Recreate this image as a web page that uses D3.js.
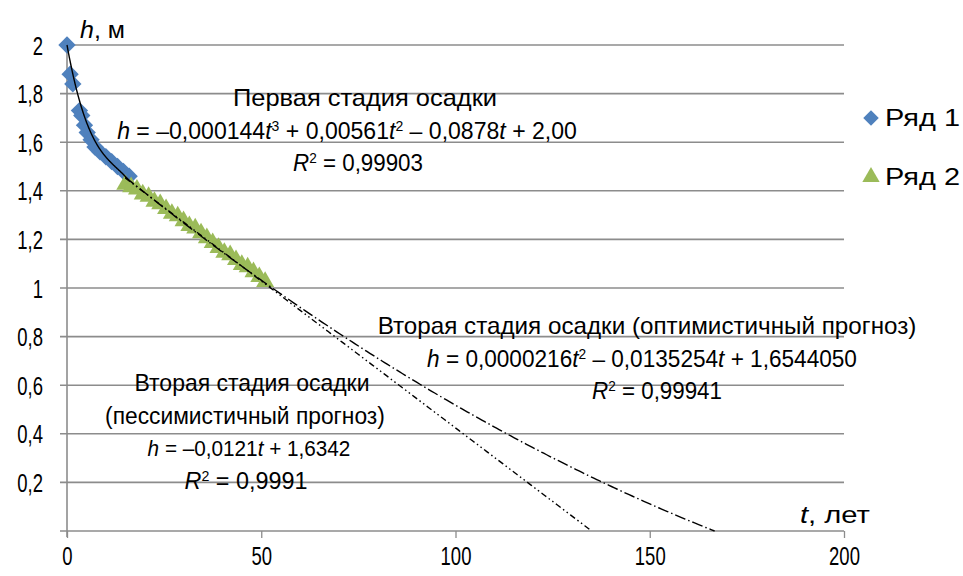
<!DOCTYPE html>
<html><head><meta charset="utf-8">
<script src="https://cdn.jsdelivr.net/npm/d3@7"></script>
<style>
html,body{margin:0;padding:0;background:#fff;}
text{font-family:"Liberation Sans",Arial,sans-serif;fill:#000;}
</style></head><body>
<svg id="c" width="963" height="576"></svg>
<script>
// ---- data ----
const series1T = [0, 0.8, 1.5, 3.2, 3.8, 4.5, 5.2, 6.2, 7.2, 8.5, 10, 11.5, 13, 14.5, 16];
const series1H = [2.00, 1.88, 1.84, 1.73, 1.71, 1.67, 1.64, 1.61, 1.58, 1.56, 1.54, 1.52, 1.50, 1.48, 1.46];
const series2T = [15, 16.5, 18, 19.5, 21, 22.5, 24, 25.5, 27, 28.5, 30, 31.5, 33, 34.5, 36, 37.5, 39, 40.5, 42, 43.5, 45, 46.5, 48, 49.5, 51];
const series2H = [1.43, 1.42, 1.41, 1.39, 1.38, 1.36, 1.35, 1.33, 1.31, 1.30, 1.28, 1.26, 1.25, 1.23, 1.21, 1.19, 1.17, 1.15, 1.14, 1.12, 1.10, 1.09, 1.07, 1.05, 1.03];
const seriesNames = ["Ряд 1", "Ряд 2"];
// trend-line coefficients (as shown in the chart)
const cubicCoef = [2.00, -0.0878, 0.00561, -0.000144];      // stage 1
const optimCoef = [1.6544050, -0.0135254, 0.0000216];       // stage 2 optimistic
const pessCoef  = [1.6342, -0.0121];                        // stage 2 pessimistic
const xTicks = [0, 50, 100, 150, 200];
const yTicks = [0.2, 0.4, 0.6, 0.8, 1, 1.2, 1.4, 1.6, 1.8, 2];

const svg = d3.select("#c");
const x = d3.scaleLinear().domain([0, 200]).range([67, 844]);
const y = d3.scaleLinear().domain([0, 2]).range([531, 45]);
const grid = "#8c8c8c";
const fmt = v => String(+v.toFixed(1)).replace(".", ",");
const NARROW = 0.74;

// grid lines
svg.append("g").selectAll("line").data(yTicks).join("line")
  .attr("x1", 60).attr("x2", x(200)).attr("y1", d => y(d)).attr("y2", d => y(d))
  .attr("stroke", grid).attr("stroke-width", 1.6);

// x axis
const xAxis = svg.append("g").attr("transform", `translate(0,${y(0)})`)
  .call(d3.axisBottom(x).tickValues(xTicks).tickSize(7).tickPadding(0).tickFormat(d => d));
xAxis.select(".domain").attr("stroke", grid).attr("stroke-width", 1.6).attr("d", `M60,0H${x(200)}`);
xAxis.selectAll(".tick line").attr("stroke", grid).attr("stroke-width", 1.3);
xAxis.selectAll(".tick text").attr("font-size", 25).attr("font-family", null)
  .attr("y", 0).attr("dy", null).attr("transform", `translate(0,34) scale(${NARROW},1)`);

// y axis
const yAxis = svg.append("g").attr("transform", `translate(${x(0)},0)`)
  .call(d3.axisLeft(y).tickValues(yTicks).tickSize(0).tickPadding(0).tickFormat(fmt));
yAxis.select(".domain").attr("stroke", grid).attr("stroke-width", 1.6).attr("d", `M0,${y(2)}V${y(0) + 6}`);
yAxis.selectAll(".tick text").attr("font-size", 25).attr("font-family", null)
  .attr("x", 0).attr("dy", "0.36em").attr("transform", `translate(-24,0) scale(${NARROW},1)`);

// markers
const diamond = d3.symbol().type(d3.symbolSquare).size(150)();
const tri = d3.symbol().type(d3.symbolTriangle).size(140)();
svg.append("g").selectAll("path").data(series1T.map((t, i) => [t, series1H[i]])).join("path")
  .attr("d", diamond).attr("fill", "#4f81bd")
  .attr("transform", d => `translate(${x(d[0])},${y(d[1])}) rotate(45)`);
svg.append("g").selectAll("path").data(series2T.map((t, i) => [t, series2H[i]])).join("path")
  .attr("d", tri).attr("fill", "#9bbb59")
  .attr("transform", d => `translate(${x(d[0])},${y(d[1]) + 1})`);

// trend lines
const poly = c => t => c.reduce((s, a, k) => s + a * Math.pow(t, k), 0);
const line = d3.line().x(d => x(d[0])).y(d => y(d[1]));
function trend(c, t0, t1, dash) {
  const f = poly(c), pts = [];
  for (let t = t0; t <= t1 + 1e-9; t += (t1 - t0) / 200) pts.push([t, f(t)]);
  svg.append("path").attr("d", line(pts)).attr("fill", "none").attr("stroke", "#000")
    .attr("stroke-width", 1.4).attr("stroke-dasharray", dash);
}
trend(cubicCoef, 0, 16, null);
trend(pessCoef, 15, 1.6342 / 0.0121, "6,3,1.5,3,1.5,3");
const disc = Math.sqrt(optimCoef[1] ** 2 - 4 * optimCoef[2] * optimCoef[0]);
trend(optimCoef, 15, (-optimCoef[1] - disc) / (2 * optimCoef[2]), "11,3,1.5,3");

// text helper: place text with left/center anchor and fit to a target width
function label(px, by, width, anchor, parts, size) {
  const t = svg.append("text").attr("x", 0).attr("y", 0).attr("text-anchor", anchor).attr("font-size", size || 23);
  parts.forEach(p => {
    const s = t.append("tspan").text(p[0]);
    if (p[1] === "i") s.attr("font-style", "italic");
    if (p[1] === "s") s.attr("font-size", 14).attr("baseline-shift", "8");
  });
  const w = t.node().getBBox().width;
  t.attr("transform", `translate(${px},${by}) scale(${width / w},1)`);
}

// axis titles
label(80, 38, 45, "start", [["h", "i"], [", м"]], 24);
label(800, 523, 70, "start", [["t", "i"], [", лет"]], 24);

// annotations
label(365, 106, 264, "middle", [["Первая стадия осадки"]]);
label(347, 139, 460, "middle", [["h", "i"], [" = –0,000144"], ["t", "i"], ["3", "s"], [" + 0,00561"], ["t", "i"], ["2", "s"], [" –  0,0878"], ["t", "i"], [" + 2,00"]]);
label(358, 171, 130, "middle", [["R", "i"], ["2", "s"], [" = 0,99903"]]);
label(647, 334, 539, "middle", [["Вторая стадия осадки (оптимистичный прогноз)"]]);
label(642, 367, 430, "middle", [["h", "i"], [" = 0,0000216"], ["t", "i"], ["2", "s"], [" – 0,0135254"], ["t", "i"], [" + 1,6544050"]]);
label(657, 399, 130, "middle", [["R", "i"], ["2", "s"], [" = 0,99941"]]);
label(252, 391, 235, "middle", [["Вторая стадия осадки"]]);
label(245, 424, 280, "middle", [["(пессимистичный прогноз)"]]);
label(249, 456, 203, "middle", [["h", "i"], [" = –0,0121"], ["t", "i"], [" + 1,6342"]]);
label(246, 489, 123, "middle", [["R", "i"], ["2", "s"], [" = 0,9991"]]);

// legend
const lg = svg.append("g");
lg.append("path").attr("d", d3.symbol().type(d3.symbolSquare).size(120)())
  .attr("fill", "#4f81bd").attr("transform", "translate(871,118) rotate(45)");
lg.append("path").attr("d", d3.symbol().type(d3.symbolTriangle).size(130)())
  .attr("fill", "#9bbb59").attr("transform", "translate(871,177)");
label(885, 126, 75, "start", [[seriesNames[0]]]);
label(885, 185, 75, "start", [[seriesNames[1]]]);
</script>
</body></html>
